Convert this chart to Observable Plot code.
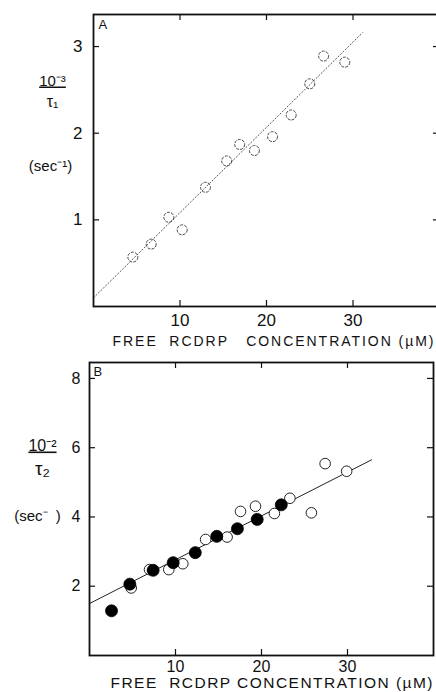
<!DOCTYPE html>
<html>
<head>
<meta charset="utf-8">
<script src="https://cdn.jsdelivr.net/npm/d3@7"></script>
<script src="https://cdn.jsdelivr.net/npm/@observablehq/plot@0.6"></script>
<style>
  html, body { margin: 0; padding: 0; background: #fff; }
  #chart svg { display: block; }
</style>
</head>
<body>
<div id="chart"></div>
<script>
// ---- Panel A data: 10^-3/τ1 vs free RCDRP concentration (µM)
const concA = [4.55, 6.67, 8.71, 10.25, 12.95, 15.4, 16.9, 18.6, 20.7, 22.85, 25.0, 26.6, 29.05];
const rateA = [0.57, 0.72, 1.03, 0.885, 1.376, 1.68, 1.87, 1.80, 1.96, 2.21, 2.57, 2.89, 2.82];
const fitAx = [0, 31.1];
const fitAy = [0.10, 3.16];
const xTicksA = [10, 20, 30];
const yTicksA = [1, 2, 3];

// ---- Panel B data: 10^-2/τ2 vs free RCDRP concentration (µM)
const concBfilled = [2.56, 4.69, 7.4, 9.73, 12.3, 14.8, 17.2, 19.5, 22.3];
const rateBfilled = [1.29, 2.06, 2.46, 2.68, 2.97, 3.44, 3.66, 3.93, 4.35];
const concBopen = [4.85, 6.98, 9.22, 10.85, 13.5, 16.0, 17.56, 19.3, 21.5, 23.3, 25.8, 27.4, 29.9];
const rateBopen = [1.95, 2.48, 2.48, 2.65, 3.35, 3.42, 4.16, 4.31, 4.10, 4.54, 4.12, 5.54, 5.32];
const fitBx = [0, 32.8];
const fitBy = [1.50, 5.65];
const xTicksB = [10, 20, 30];
const yTicksB = [2, 4, 6, 8];

const xLabelA = "FREE  RCDRP   CONCENTRATION (\u00B5M)";
const xLabelB = "FREE  RCDRP CONCENTRATION (\u00B5M)";
const numA = "10\u207B\u00B3", numB = "10\u207B\u00B2";

const toPts = (xs, ys) => xs.map((x, i) => ({x, y: ys[i]}));
const FONT = "'Liberation Sans', Arial, sans-serif";
const fmt = d3.format("d");

function innerTicks(xt, yt, innerW, innerH) {
  const L = 6;
  return [
    Plot.tickX(xt, {x: d => d, insetTop: innerH - L, stroke: "#111", strokeWidth: 1.2}),
    Plot.tickX(xt, {x: d => d, insetBottom: innerH - L, stroke: "#111", strokeWidth: 1.2}),
    Plot.tickY(yt, {y: d => d, insetRight: innerW - L, stroke: "#111", strokeWidth: 1.2}),
    Plot.tickY(yt, {y: d => d, insetLeft: innerW - L, stroke: "#111", strokeWidth: 1.2})
  ];
}

// ---------------- Panel A ----------------
// the right edge of panel A's frame falls just outside the picture
const A = {width: 436, height: 352, mt: 14, mb: 46, ml: 93, mr: -3};
const plotA = Plot.plot({
  width: A.width, height: A.height,
  marginTop: A.mt, marginBottom: A.mb, marginLeft: A.ml, marginRight: A.mr,
  style: {fontFamily: FONT, fontSize: "17px", color: "#111", background: "#fff", overflow: "hidden"},
  x: {domain: [0, 40]},
  y: {domain: [0, 3.37]},
  marks: [
    Plot.axisX(xTicksA, {tickSize: 0, tickPadding: 7, label: null, tickFormat: fmt}),
    Plot.axisY(yTicksA, {tickSize: 0, tickPadding: 11, label: null, tickFormat: fmt}),
    ...innerTicks(xTicksA, yTicksA, A.width - A.ml - A.mr, A.height - A.mt - A.mb),
    Plot.line(toPts(fitAx, fitAy), {x: "x", y: "y", stroke: "#555", strokeWidth: 1, strokeDasharray: "1.2,2.2"}),
    Plot.dot(toPts(concA, rateA), {x: "x", y: "y", r: 5, stroke: "#333", strokeWidth: 0.9, fill: "none", strokeDasharray: "3,1.2"}),
    Plot.frame({stroke: "#111", strokeWidth: 1.8}),
    Plot.text(["A"], {frameAnchor: "top-left", dx: 5, dy: 14, lineAnchor: "bottom", textAnchor: "start", fontSize: 13}),
    Plot.text([numA], {frameAnchor: "top-left", dx: 52 - A.ml, dy: 85 - A.mt, lineAnchor: "bottom", textAnchor: "middle", fontSize: 15}),
    Plot.text(["\u03C4\u2081"], {frameAnchor: "top-left", dx: 52 - A.ml, dy: 106 - A.mt, lineAnchor: "bottom", textAnchor: "middle", fontSize: 16}),
    Plot.text(["(sec\u207B\u00B9)"], {frameAnchor: "top-left", dx: 50 - A.ml, dy: 170 - A.mt, lineAnchor: "bottom", textAnchor: "middle", fontSize: 15}),
    Plot.text([xLabelA], {frameAnchor: "bottom-left", dx: 112 - A.ml, dy: 39, lineAnchor: "bottom", textAnchor: "start", fontSize: 14})
  ]
});

// ---------------- Panel B ----------------
const B = {width: 436, height: 340, mt: 10, mb: 37, ml: 89, mr: 3, top: 352};
const plotB = Plot.plot({
  width: B.width, height: B.height,
  marginTop: B.mt, marginBottom: B.mb, marginLeft: B.ml, marginRight: B.mr,
  style: {fontFamily: FONT, fontSize: "16px", color: "#111", background: "#fff"},
  x: {domain: [0, 40]},
  y: {domain: [0, 8.46]},
  marks: [
    Plot.axisX(xTicksB, {tickSize: 0, tickPadding: 5, label: null, tickFormat: fmt}),
    Plot.axisY(yTicksB, {tickSize: 0, tickPadding: 9, label: null, tickFormat: fmt}),
    ...innerTicks(xTicksB, yTicksB, B.width - B.ml - B.mr, B.height - B.mt - B.mb),
    Plot.line(toPts(fitBx, fitBy), {x: "x", y: "y", stroke: "#222", strokeWidth: 1}),
    Plot.dot(toPts(concBopen, rateBopen), {x: "x", y: "y", r: 5.3, stroke: "#222", strokeWidth: 1, fill: "#fff"}),
    Plot.dot(toPts(concBfilled, rateBfilled), {x: "x", y: "y", r: 6, stroke: "#000", strokeWidth: 0.8, fill: "#000"}),
    Plot.frame({stroke: "#111", strokeWidth: 1.8}),
    Plot.text(["B"], {frameAnchor: "top-left", dx: 4, dy: 13, lineAnchor: "bottom", textAnchor: "start", fontSize: 13}),
    Plot.text([numB], {frameAnchor: "top-left", dx: 42 - B.ml, dy: 450 - B.top - B.mt, lineAnchor: "bottom", textAnchor: "middle", fontSize: 16}),
    Plot.text(["\u03C4\u2082"], {frameAnchor: "top-left", dx: 42 - B.ml, dy: 474 - B.top - B.mt, lineAnchor: "bottom", textAnchor: "middle", fontSize: 19}),
    Plot.text(["(sec\u207B  )"], {frameAnchor: "top-left", dx: 37 - B.ml, dy: 520 - B.top - B.mt, lineAnchor: "bottom", textAnchor: "middle", fontSize: 15}),
    Plot.text([xLabelB], {frameAnchor: "bottom-left", dx: 110 - B.ml, dy: 32, lineAnchor: "bottom", textAnchor: "start", fontSize: 15.5})
  ]
});

function findText(svg, label) {
  return d3.select(svg).selectAll("text").filter(function () { return this.textContent === label; });
}
// stretch the x-axis titles to the widths seen in the figure
findText(plotA, xLabelA).attr("textLength", 321).attr("lengthAdjust", "spacing");
findText(plotB, xLabelB).attr("textLength", 322).attr("lengthAdjust", "spacing");
// fraction bars under the numerators
findText(plotA, numA).style("text-decoration", "underline");
findText(plotB, numB).style("text-decoration", "underline");

document.getElementById("chart").append(plotA, plotB);
</script>
</body>
</html>
